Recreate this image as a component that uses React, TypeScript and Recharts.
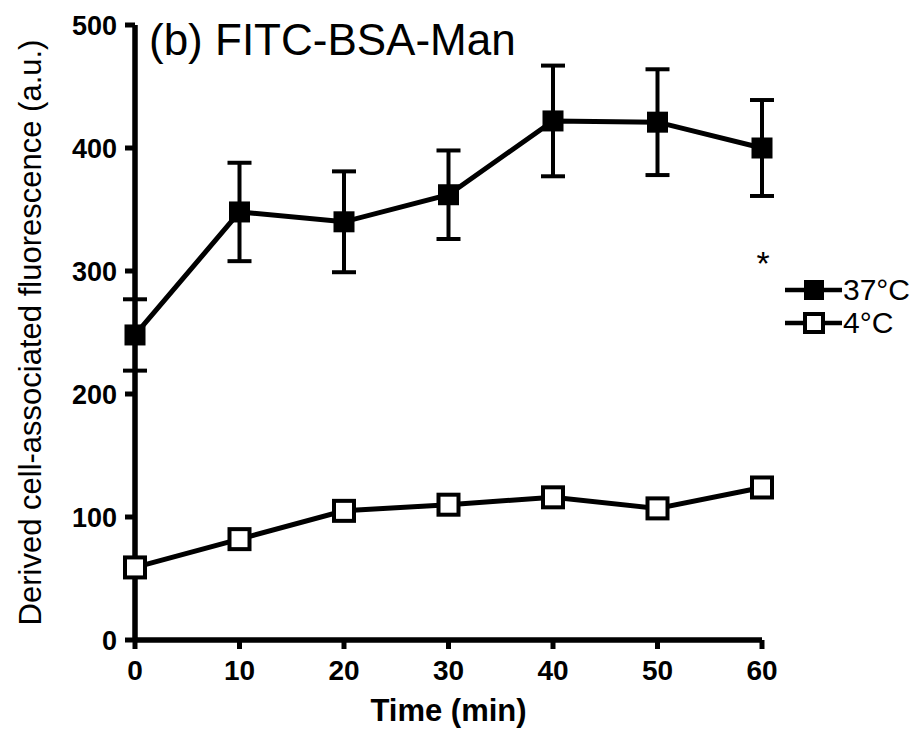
import { LineChart, Line, XAxis, YAxis, ErrorBar, ReferenceDot, ReferenceLine } from 'recharts'

const times = [0, 10, 20, 30, 40, 50, 60]
const warm = [248, 348, 340, 362, 422, 421, 400]
const warmErr = [29, 40, 41, 36, 45, 43, 39]
const cold = [59, 82, 105, 110, 116, 107, 124]
const yTicks = [0, 100, 200, 300, 400, 500]
const legendItems = [
  { label: '37°C', filled: true },
  { label: '4°C', filled: false },
]

const data = times.map((t, i) => ({
  t,
  warm: warm[i],
  warmErr: warmErr[i],
  cold: cold[i],
}))

const FONT = '"Liberation Sans", Arial, Helvetica, sans-serif'

const axisCss = `
.recharts-cartesian-axis-line { stroke-width: 5px; }
.recharts-cartesian-axis-tick-line { stroke-width: 5px; }
`

interface DotProps {
  cx?: number
  cy?: number
  index?: number
}

function FilledSquare({ cx, cy, index }: DotProps) {
  if (cx == null || cy == null) return null
  return <rect key={`f${index}`} x={cx - 10.5} y={cy - 10.5} width={21} height={21} fill="#000" />
}

function OpenSquare({ cx, cy, index }: DotProps) {
  if (cx == null || cy == null) return null
  return (
    <rect
      key={`o${index}`}
      x={cx - 10}
      y={cy - 10}
      width={20}
      height={20}
      fill="#fff"
      stroke="#000"
      strokeWidth={4}
    />
  )
}

function TitleShape({ cx, cy }: DotProps) {
  if (cx == null || cy == null) return <g />
  return (
    <text x={cx + 14} y={cy + 30} fontSize={44} fontFamily={FONT} fill="#000">
      (b) FITC-BSA-Man
    </text>
  )
}

function StarShape({ cx, cy }: DotProps) {
  if (cx == null || cy == null) return <g />
  return (
    <text x={cx + 1} y={cy + 19} fontSize={34} fontFamily={FONT} fill="#000" textAnchor="middle">
      *
    </text>
  )
}

function LegendBox() {
  return (
    <svg width={140} height={80} style={{ position: 'absolute', left: 780, top: 270 }}>
      {legendItems.map((it, i) => {
        const y = 20 + i * 33
        return (
          <g key={it.label}>
            <line x1={5} x2={62} y1={y} y2={y} stroke="#000" strokeWidth={4.5} />
            {it.filled ? (
              <rect x={24} y={y - 10} width={20} height={20} fill="#000" />
            ) : (
              <rect x={25} y={y - 9} width={18} height={18} fill="#fff" stroke="#000" strokeWidth={4} />
            )}
            <text x={63} y={y + 10} fontSize={30} fontFamily={FONT} fill="#000">
              {it.label}
            </text>
          </g>
        )
      })}
    </svg>
  )
}

export default function App() {
  return (
    <div style={{ position: 'absolute', left: 0, top: 0, width: 922, height: 729, background: '#fff' }}>
      <style>{axisCss}</style>
      <LineChart
        width={922}
        height={729}
        data={data}
        margin={{ top: 25, right: 160, left: 0, bottom: 0 }}
      >
        <XAxis
          dataKey="t"
          type="number"
          domain={[0, 60]}
          ticks={times}
          height={89}
          stroke="#000"
          axisLine={{ stroke: '#000', strokeWidth: 5 }}
          tickLine={{ stroke: '#000', strokeWidth: 5 }}
          tickSize={9}
          tickMargin={11}
          tick={{ fontSize: 28, fontWeight: 'bold', fill: '#000', fontFamily: FONT }}
          label={{
            value: 'Time (min)',
            position: 'insideBottom',
            offset: 8,
            style: { fontSize: 31, fontWeight: 'bold', fill: '#000', fontFamily: FONT },
          }}
        />
        <YAxis
          type="number"
          domain={[0, 500]}
          ticks={yTicks}
          width={135}
          stroke="#000"
          axisLine={{ stroke: '#000', strokeWidth: 5 }}
          tickLine={{ stroke: '#000', strokeWidth: 5 }}
          tickSize={10}
          tickMargin={8}
          tick={{ fontSize: 27, fontWeight: 'bold', fill: '#000', fontFamily: FONT }}
          label={{
            value: 'Derived cell-associated fluorescence (a.u.)',
            angle: -90,
            position: 'insideLeft',
            offset: 30,
            style: { fontSize: 31, fill: '#000', fontFamily: FONT, textAnchor: 'middle' },
          }}
        />
        <ReferenceLine y={0} stroke="#000" strokeWidth={5} />
        <ReferenceLine x={0} stroke="#000" strokeWidth={5} />
        <ReferenceDot x={0} y={500} r={0} isFront shape={<TitleShape />} />
        <ReferenceDot x={60} y={312} r={0} isFront shape={<StarShape />} />
        <Line
          dataKey="cold"
          stroke="#000"
          strokeWidth={5}
          dot={<OpenSquare />}
          activeDot={false}
          isAnimationActive={false}
        />
        <Line
          dataKey="warm"
          stroke="#000"
          strokeWidth={5}
          dot={<FilledSquare />}
          activeDot={false}
          isAnimationActive={false}
        >
          <ErrorBar dataKey="warmErr" width={12} stroke="#000" strokeWidth={4} direction="y" />
        </Line>
      </LineChart>
      <LegendBox />
    </div>
  )
}
